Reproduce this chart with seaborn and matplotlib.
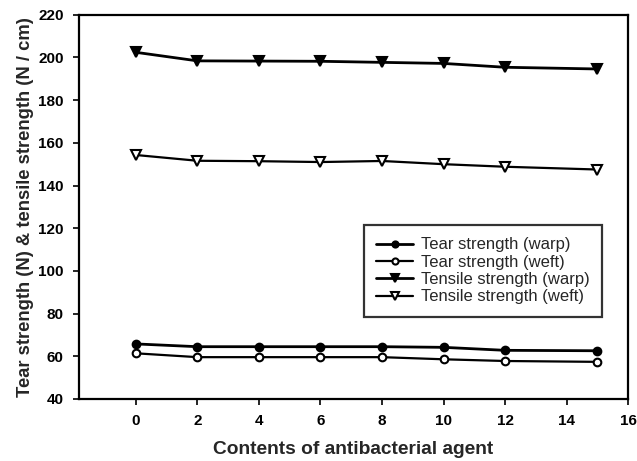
import matplotlib
matplotlib.use("Agg")
import matplotlib.pyplot as plt
import seaborn as sns
import pandas as pd

# Antibacterial agent content (x) and measured strengths
contents = [0, 2, 4, 6, 8, 10, 12, 15]
tear_warp = [65.8, 64.5, 64.5, 64.5, 64.5, 64.2, 62.8, 62.6]
tear_weft = [61.4, 59.6, 59.6, 59.6, 59.6, 58.6, 57.8, 57.4]
tensile_warp = [202.4, 198.4, 198.3, 198.2, 197.7, 197.2, 195.4, 194.6]
tensile_weft = [154.3, 151.6, 151.4, 151.0, 151.5, 150.0, 148.8, 147.5]

series_names = ["Tear strength (warp)", "Tear strength (weft)",
                "Tensile strength (warp)", "Tensile strength (weft)"]
x_ticks = [0, 2, 4, 6, 8, 10, 12, 14, 16]
y_ticks = [40, 60, 80, 100, 120, 140, 160, 180, 200, 220]

sns.set_style("ticks")
plt.rcParams["font.family"] = ["Liberation Sans", "DejaVu Sans"]

fig = plt.figure(figsize=(6.37, 4.61), dpi=100)
ax = fig.add_axes([0.124, 0.1345, 0.862, 0.8335])

styles = [
    dict(marker="o", mfc="black", lw=2.0, ms=5.5),
    dict(marker="o", mfc="white", lw=1.6, ms=5.5),
    dict(marker="v", mfc="black", lw=2.0, ms=7),
    dict(marker="v", mfc="white", lw=1.6, ms=7),
]
values = [tear_warp, tear_weft, tensile_warp, tensile_weft]

for name, vals, st in zip(series_names, values, styles):
    df = pd.DataFrame({"x": contents, "y": vals})
    sns.lineplot(data=df, x="x", y="y", ax=ax, color="black",
                 linewidth=st["lw"], marker=st["marker"],
                 markersize=st["ms"], markerfacecolor=st["mfc"],
                 markeredgecolor="black", markeredgewidth=1.5,
                 label=name)

ax.set_xlim(-1.85, 16)
ax.set_ylim(40, 220)
ax.set_xticks(x_ticks)
ax.set_yticks(y_ticks)
for sp in ax.spines.values():
    sp.set_linewidth(1.6)
    sp.set_color("black")
ax.tick_params(direction="out", length=4, width=1.2, colors="black",
               labelsize=11, pad=7)
for lab in ax.get_xticklabels() + ax.get_yticklabels():
    lab.set_fontweight("bold")

ax.set_xlabel("Contents of antibacterial agent", fontsize=13.8,
              fontweight="bold", labelpad=9)
ax.set_ylabel("Tear strength (N) & tensile strength (N / cm)", fontsize=13.2,
              fontweight="bold", labelpad=3)

leg = ax.legend(loc="upper left", bbox_to_anchor=(0.519, 0.453),
                frameon=True, fancybox=False, edgecolor="black",
                fontsize=12, handlelength=2.2, borderpad=0.75,
                labelspacing=0.14, handletextpad=0.45, borderaxespad=0,
                markerscale=0.8)
leg.get_frame().set_linewidth(1.6)

fig.savefig("out.png", dpi=100)
